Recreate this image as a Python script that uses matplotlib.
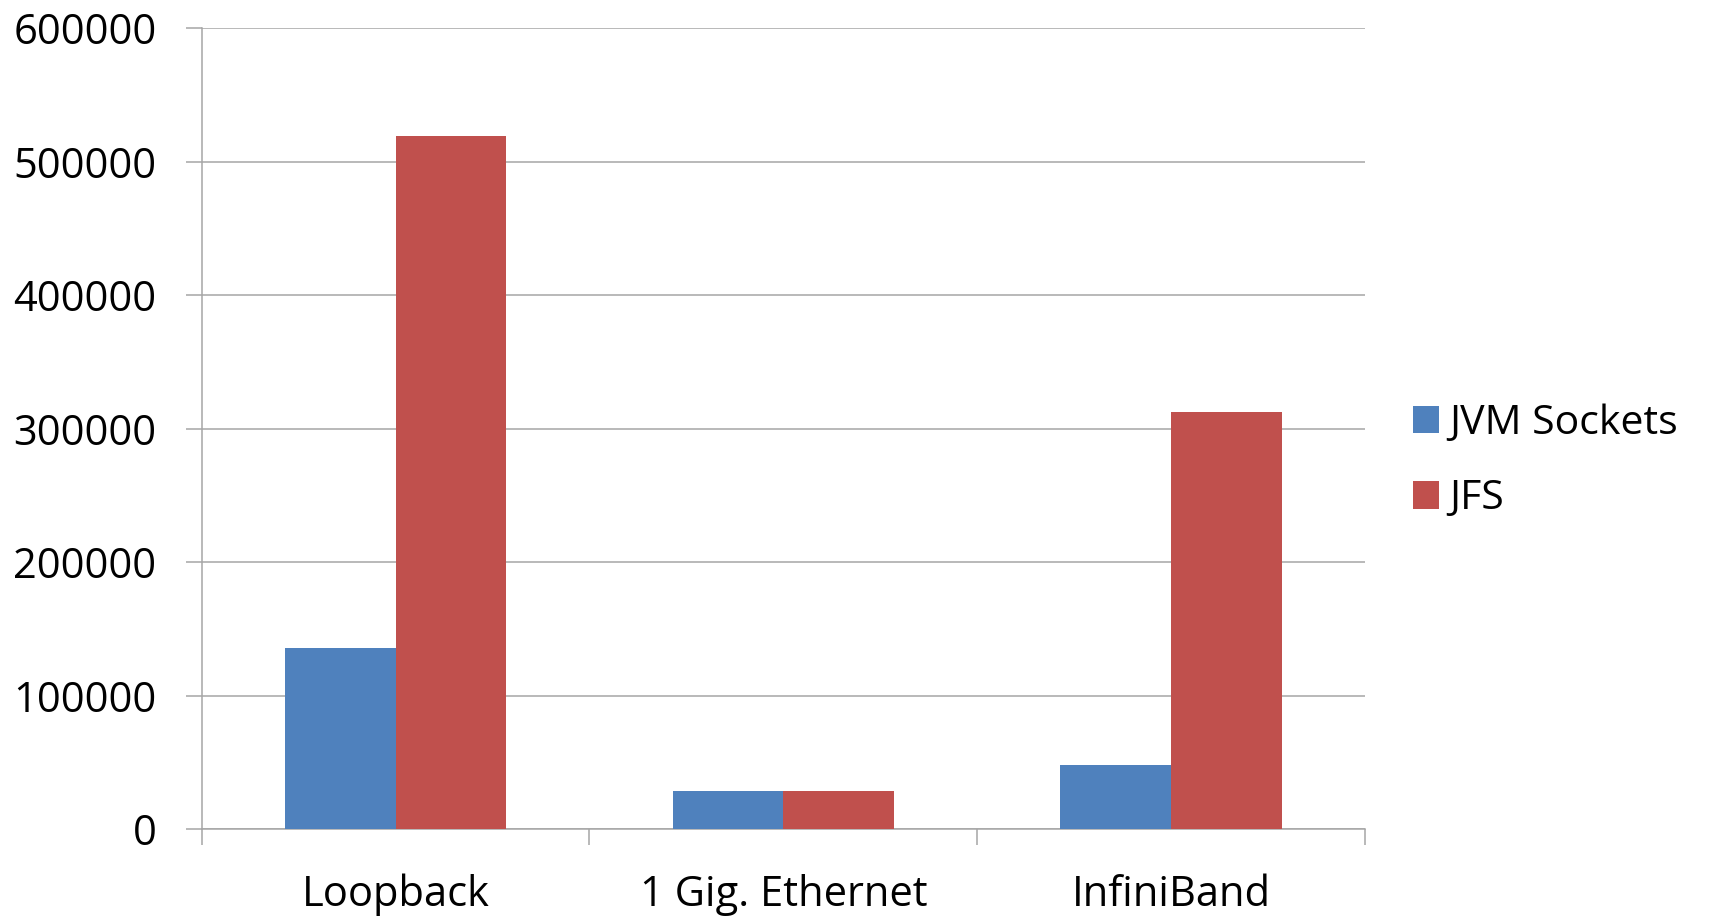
import matplotlib
matplotlib.use("Agg")
import matplotlib.pyplot as plt
import numpy as np
from matplotlib.patches import Patch

plt.rcParams['font.family'] = ['Open Sans', 'DejaVu Sans']

categories = ["Loopback", "1 Gig. Ethernet", "InfiniBand"]
series_names = ["JVM Sockets", "JFS"]
jvm_sockets = [136000, 28900, 48200]
jfs = [519000, 28900, 312800]
colors = ["#4F81BD", "#C0504D"]
y_ticks = [0, 100000, 200000, 300000, 400000, 500000, 600000]

fig = plt.figure(figsize=(17.11, 9.16), dpi=100)
ax = fig.add_axes([201.7 / 1711, 1 - 829.3 / 916, (1365 - 201.7) / 1711, (829.3 - 28) / 916])

centers = np.arange(len(categories)) + 0.5
width = 2 / 7  # two bars per category with 150% gap

ax.bar(centers - width / 2, jvm_sockets, width, color=colors[0], zorder=3, linewidth=0)
ax.bar(centers + width / 2, jfs, width, color=colors[1], zorder=3, linewidth=0)

grid_color = "#A6A6A6"
ax.set_xlim(0, len(categories))
ax.set_ylim(0, 600000)
ax.set_yticks(y_ticks)
ax.set_yticklabels([str(v) for v in y_ticks])
ax.yaxis.grid(True, color=grid_color, linewidth=1.1, zorder=0)
ax.set_axisbelow(True)

# category boundaries get tick marks; labels sit at the category centres
ax.set_xticks(np.arange(len(categories) + 1))
ax.set_xticklabels([])
ax.set_xticks(centers, minor=True)
ax.set_xticklabels(categories, minor=True)

ax.tick_params(axis='y', which='major', direction='out', length=11.5, width=1.1,
               color=grid_color, labelsize=30, pad=21)
ax.tick_params(axis='x', which='major', direction='out', length=11.5, width=1.1,
               color=grid_color)
ax.tick_params(axis='x', which='minor', length=0, labelsize=30, pad=32)

for side in ("top", "right"):
    ax.spines[side].set_visible(False)
for side in ("left", "bottom"):
    ax.spines[side].set_color(grid_color)
    ax.spines[side].set_linewidth(1.1)

handles = [Patch(facecolor=c, edgecolor='none') for c in colors]
fig.legend(handles, series_names, loc='center left',
           bbox_to_anchor=(1413 / 1711, 1 - 461.5 / 916), bbox_transform=fig.transFigure,
           frameon=False, fontsize=29.5, handlelength=0.64, handleheight=0.64,
           handletextpad=0.25, labelspacing=0.85, borderpad=0, borderaxespad=0)

fig.savefig("out.png", dpi=100, facecolor="white")
